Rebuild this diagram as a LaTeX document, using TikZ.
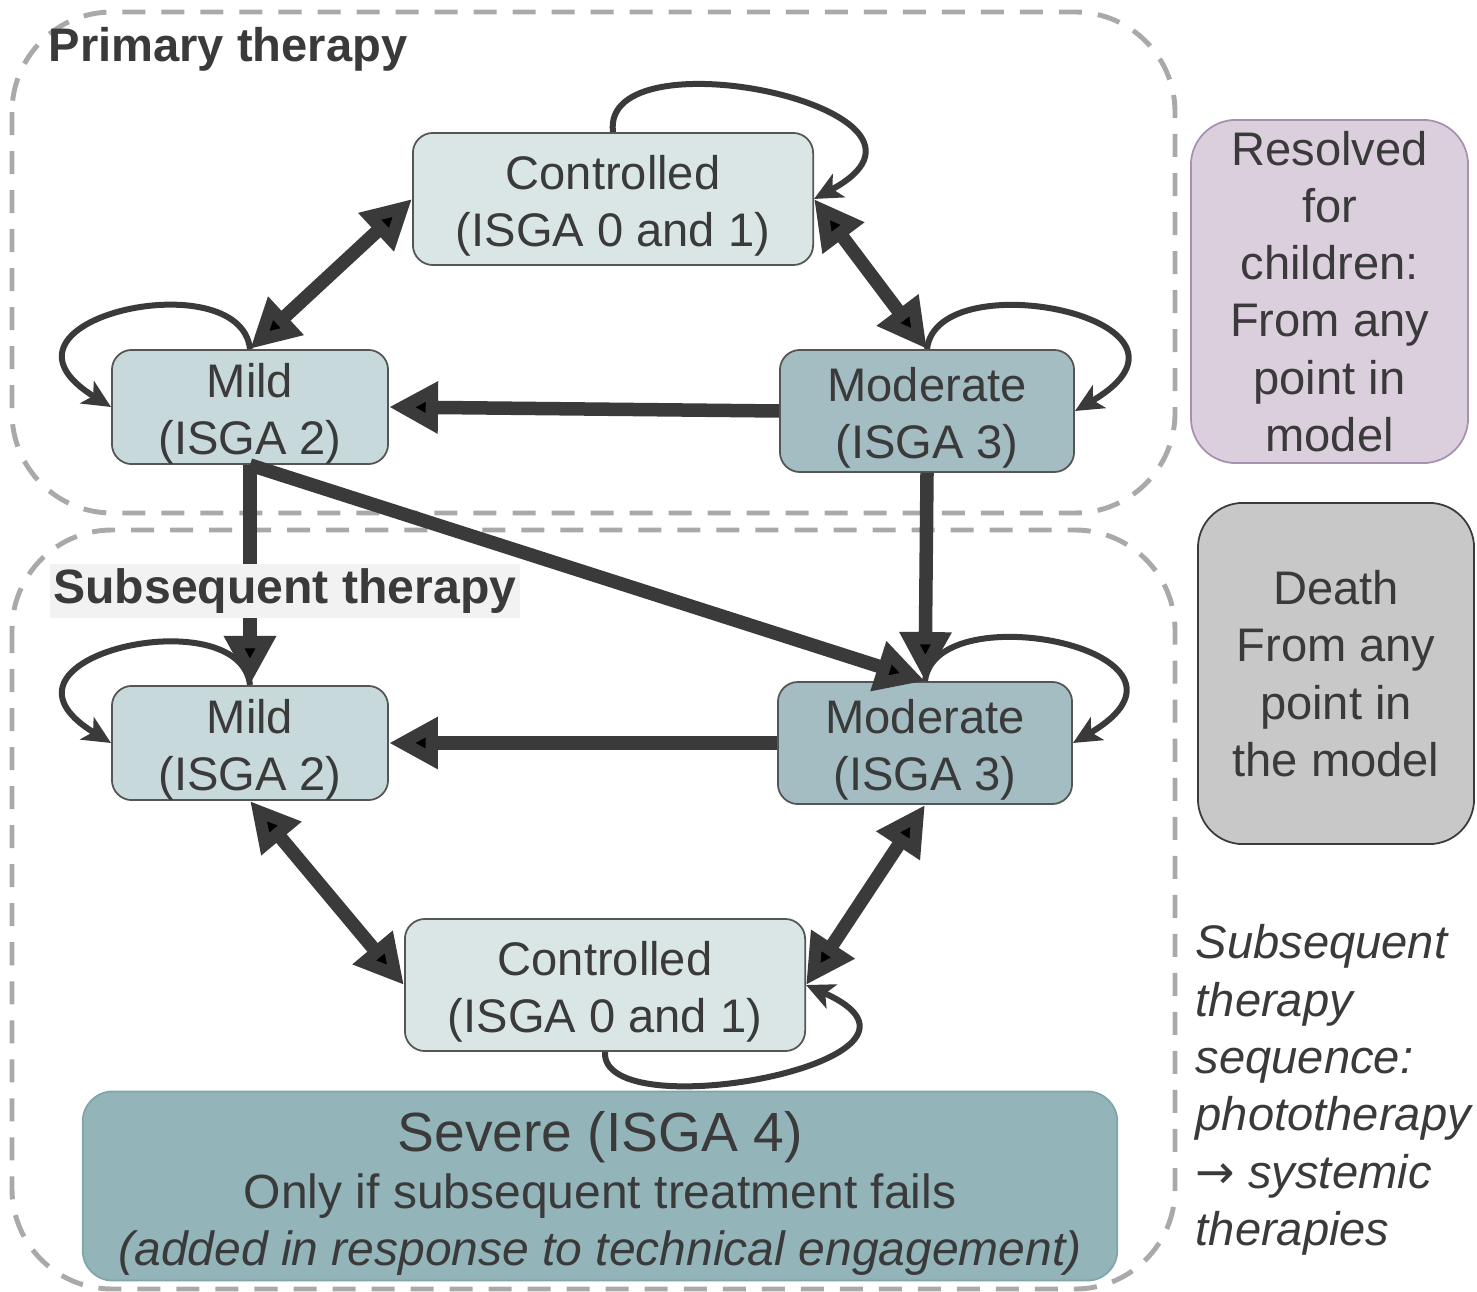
\documentclass[tikz,border=0pt]{standalone}
\usepackage{fontspec}
\setmainfont{Liberation Sans}
\newfontfamily\arrowfont{DejaVu Sans}
\usepackage{tikz}
\usetikzlibrary{arrows.meta,positioning}

\definecolor{txtgray}{HTML}{3A3A3A}
\definecolor{arrowgray}{HTML}{3A3A3A}
\definecolor{dashgray}{HTML}{A9A9A9}
\definecolor{boxedge}{HTML}{555555}
\definecolor{ctrlfill}{HTML}{DAE6E6}
\definecolor{mildfill}{HTML}{C8D9DC}
\definecolor{modfill}{HTML}{A3BDC2}
\definecolor{sevfill}{HTML}{93B4B9}
\definecolor{sevedge}{HTML}{7FA4A9}
\definecolor{resfill}{HTML}{DBCFDD}
\definecolor{resedge}{HTML}{A891AE}
\definecolor{deathfill}{HTML}{C8C8C8}
\definecolor{labelbg}{HTML}{F2F2F2}
\newcommand{\topstrut}{\rule{0pt}{1em}}

\begin{document}
\begin{tikzpicture}[x=0.01cm,y=-0.01cm,text=txtgray,
    font=\fontsize{13.4}{16.3}\selectfont,
    >={Triangle[length=4.9mm,width=4.9mm]},
    box/.style={draw=boxedge,line width=0.5pt,rounded corners=2mm,align=center,inner sep=0pt,
        minimum width=2.76cm,minimum height=1.12cm},
    flow/.style={draw=arrowgray,line width=1.35mm},
    selfloop/.style={draw=arrowgray,line width=0.6mm,-{Stealth[length=2.8mm,width=2.6mm,inset=0.7mm]}},
    zone/.style={draw=dashgray,line width=1.4pt,dash pattern=on 2.3mm off 1.6mm,rounded corners=1cm}]
    \useasboundingbox (0,0) rectangle (1477,1292);

    % therapy zones
    \draw[zone] (12,12) rectangle (1175,513);
    \draw[zone] (12,530) rectangle (1175,1289);

    \node[box,fill=ctrlfill,minimum width=4cm,minimum height=1.32cm] (1) at (613,199) {\topstrut Controlled\\(ISGA 0 and 1)};
    \node[box,fill=mildfill] (2) at (250,407) {\topstrut Mild\\(ISGA 2)};
    \node[box,fill=modfill,minimum width=2.94cm,minimum height=1.22cm] (3) at (927,411) {\topstrut Moderate\\(ISGA 3)};
    \node[box,fill=mildfill] (4) at (250,743) {\topstrut Mild\\(ISGA 2)};
    \node[box,fill=modfill,minimum width=2.94cm,minimum height=1.22cm] (5) at (925,743) {\topstrut Moderate\\(ISGA 3)};
    \node[box,fill=ctrlfill,minimum width=4cm,minimum height=1.32cm] (6) at (605,985) {\topstrut Controlled\\(ISGA 0 and 1)};
    \node[box,fill=sevfill,draw=sevedge,rounded corners=3mm,minimum width=10.34cm,minimum height=1.89cm,
        font=\fontsize{13.65}{16.3}\selectfont] (7) at (600,1186)
        {{\fontsize{15.7}{18}\selectfont\topstrut Severe (ISGA 4)}\\Only if subsequent treatment fails\\\textit{(added in response to technical engagement)}};
    \node[box,fill=resfill,draw=resedge,rounded corners=4.5mm,minimum width=2.77cm,minimum height=3.43cm] (8) at (1329.5,291.5)
        {Resolved\\for\\children:\\From any\\point in\\model};
    \node[box,fill=deathfill,draw=arrowgray,rounded corners=4.5mm,minimum width=2.76cm,minimum height=3.41cm] (9) at (1336,673.5)
        {Death\\From any\\point in\\the model};
    \node[anchor=west,align=left,inner sep=0pt,font=\fontsize{13.4}{16.3}\selectfont\itshape] (note) at (1195,1090)
        {Subsequent\\therapy\\sequence:\\phototherapy\\{\upshape\arrowfont →} systemic\\therapies};

    \draw[flow] (2.north) edge[<->] (1.west)
          (1.east) edge[<->] (3.north)
          (3.west) edge[->] (2.east)
          (2.south) edge[->] (4.north)
          (2.south) edge[->] (5.north)
          (3.south) edge[->] (5.north)
          (5.west) edge[->] (4.east)
          (4.south) edge[<->] (6.west)
          (5.south) edge[<->] (6.east)
          ;

    % self loops
    \draw[selfloop] (1.north) .. controls (600,30) and (980,110) .. (1.east);
    \draw[selfloop] (2.north) .. controls (240,260) and (-30,320) .. (2.west);
    \draw[selfloop] (3.north) .. controls (937,260) and (1230,320) .. (3.east);
    \draw[selfloop] (4.north) .. controls (240,597) and (-30,657) .. (4.west);
    \draw[selfloop] (5.north) .. controls (935,592) and (1228,652) .. (5.east);
    \draw[selfloop] (6.south) .. controls (600,1130) and (975,1060) .. (6.east);

    \node[anchor=base west,inner sep=0pt,font=\fontsize{13.4}{16.3}\selectfont\bfseries] (primary) at (48,62) {Primary therapy};
    \node[anchor=west,fill=labelbg,inner xsep=1pt,inner ysep=1.3pt,font=\fontsize{13.7}{16.3}\selectfont\bfseries] (subsequent) at (49,591) {Subsequent therapy};
\end{tikzpicture}
\end{document}
